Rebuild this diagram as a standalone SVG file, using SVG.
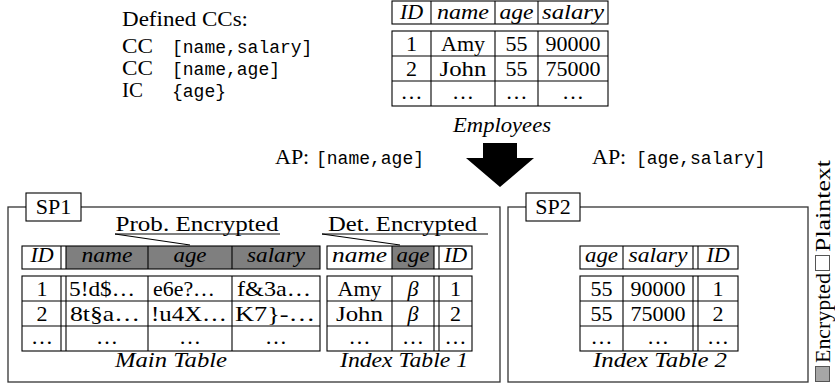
<svg xmlns="http://www.w3.org/2000/svg" width="835" height="385" viewBox="0 0 835 385" font-family="'Liberation Serif', 'DejaVu Serif', serif">
<style>
text{font-family:'Liberation Serif','DejaVu Serif',serif;font-size:22px;fill:#000}
.s{font-size:21px}
.it{font-style:italic}
.mono{font-family:'Liberation Mono','DejaVu Sans Mono',monospace;font-size:18px}
.c{text-anchor:middle}
.tb{fill:none;stroke:#000;stroke-width:1.1}
.ln{stroke:#000;stroke-width:1.1}
.hd{fill:#7f7f7f;stroke:none}
.fr{fill:none;stroke:#333;stroke-width:1.3}
.lab{fill:#fff;stroke:#000;stroke-width:1.1}
</style>
<rect width="835" height="385" fill="#fff"/>

<g id="defined-ccs">
<text x="122" y="26" textLength="126" lengthAdjust="spacingAndGlyphs">Defined CCs:</text>
<text class="s" x="122" y="53" textLength="31" lengthAdjust="spacingAndGlyphs">CC</text><text x="172" y="53" class="mono">[name,salary]</text>
<text class="s" x="122" y="75" textLength="31" lengthAdjust="spacingAndGlyphs">CC</text><text x="172" y="75" class="mono">[name,age]</text>
<text class="s" x="122" y="97">IC</text><text x="172" y="97" class="mono">{age}</text>
</g>

<g id="employees">
<rect class="tb" x="392" y="1" width="216" height="23"/>
<line class="ln" x1="431" y1="1" x2="431" y2="24"/>
<line class="ln" x1="495" y1="1" x2="495" y2="24"/>
<line class="ln" x1="538" y1="1" x2="538" y2="24"/>
<text class="it c" x="411.5" y="19">ID</text>
<text class="it c" x="463" y="19" textLength="52" lengthAdjust="spacingAndGlyphs">name</text>
<text class="it c" x="516.5" y="19" textLength="34" lengthAdjust="spacingAndGlyphs">age</text>
<text class="it c" x="573" y="19" textLength="62" lengthAdjust="spacingAndGlyphs">salary</text>
<rect class="tb" x="392" y="31" width="216" height="75"/>
<line class="ln" x1="431" y1="31" x2="431" y2="106"/>
<line class="ln" x1="495" y1="31" x2="495" y2="106"/>
<line class="ln" x1="538" y1="31" x2="538" y2="106"/>
<line class="ln" x1="392" y1="56" x2="608" y2="56"/>
<line class="ln" x1="392" y1="81" x2="608" y2="81"/>
<text class="c" x="411.5" y="51">1</text><text class="c" x="463" y="51">Amy</text><text class="c" x="516.5" y="51">55</text><text class="c" x="573" y="51">90000</text>
<text class="c" x="411.5" y="76">2</text><text class="c" x="463" y="76" textLength="47" lengthAdjust="spacingAndGlyphs">John</text><text class="c" x="516.5" y="76">55</text><text class="c" x="573" y="76">75000</text>
<text class="c" x="411.5" y="99">…</text><text class="c" x="463" y="99">…</text><text class="c" x="516.5" y="99">…</text><text class="c" x="573" y="99">…</text>
<text class="it c" x="502" y="132" textLength="98" lengthAdjust="spacingAndGlyphs">Employees</text>
</g>

<g id="connectors">
<polygon points="483,143 517,143 517,158 534,158 500,187 466,158 483,158" fill="#000"/>
<text x="275" y="164">AP:</text><text x="316" y="164" class="mono">[name,age]</text>
<text x="592" y="164">AP:</text><text x="636" y="164" class="mono">[age,salary]</text>
</g>

<g id="sp1">
<rect class="fr" x="8" y="207" width="492" height="175"/>
<rect class="lab" x="26" y="193" width="55" height="28"/>
<text class="c" x="53.5" y="214">SP1</text>
</g>

<g id="main-table">
<text class="c" x="197" y="231" textLength="163" lengthAdjust="spacingAndGlyphs">Prob. Encrypted</text>
<line class="ln" x1="115" y1="234" x2="280" y2="234"/>
<line class="ln" x1="115" y1="234" x2="190" y2="245"/>
<rect class="hd" x="66" y="246" width="254" height="23"/>
<rect class="tb" x="22" y="246" width="298" height="23"/>
<line class="ln" x1="61" y1="246" x2="61" y2="269"/>
<line class="ln" x1="66" y1="246" x2="66" y2="269"/>
<line class="ln" x1="148" y1="246" x2="148" y2="269"/>
<line class="ln" x1="232" y1="246" x2="232" y2="269"/>
<text class="it c" x="42" y="262">ID</text>
<text class="it c" x="107" y="262" textLength="51" lengthAdjust="spacingAndGlyphs">name</text>
<text class="it c" x="190" y="262" textLength="33" lengthAdjust="spacingAndGlyphs">age</text>
<text class="it c" x="276" y="262" textLength="58" lengthAdjust="spacingAndGlyphs">salary</text>
<rect class="tb" x="22" y="276" width="298" height="75"/>
<line class="ln" x1="61" y1="276" x2="61" y2="351"/>
<line class="ln" x1="66" y1="276" x2="66" y2="351"/>
<line class="ln" x1="148" y1="276" x2="148" y2="351"/>
<line class="ln" x1="232" y1="276" x2="232" y2="351"/>
<line class="ln" x1="22" y1="301" x2="320" y2="301"/>
<line class="ln" x1="22" y1="326" x2="320" y2="326"/>
<text class="c" x="42" y="296">1</text><text x="69" y="296" textLength="66" lengthAdjust="spacingAndGlyphs">5!d$…</text><text x="153" y="296" textLength="62" lengthAdjust="spacingAndGlyphs">e6e?…</text><text x="237" y="296" textLength="74" lengthAdjust="spacingAndGlyphs">f&amp;3a…</text>
<text class="c" x="42" y="321">2</text><text x="70" y="321" textLength="70" lengthAdjust="spacingAndGlyphs">8t§a…</text><text x="151" y="321" textLength="76" lengthAdjust="spacingAndGlyphs">!u4X…</text><text x="235" y="321" textLength="80" lengthAdjust="spacingAndGlyphs">K7}-…</text>
<text class="c" x="42" y="344">…</text><text class="c" x="107" y="344">…</text><text class="c" x="190" y="344">…</text><text class="c" x="276" y="344">…</text>
<text class="it c" x="171" y="367" textLength="112" lengthAdjust="spacingAndGlyphs">Main Table</text>
</g>

<g id="index-table-1">
<text class="c" x="402.5" y="231" textLength="149" lengthAdjust="spacingAndGlyphs">Det. Encrypted</text>
<line class="ln" x1="322" y1="234" x2="488" y2="234"/>
<line class="ln" x1="322" y1="234" x2="400" y2="245"/>
<rect class="hd" x="392" y="246" width="42" height="23"/>
<rect class="tb" x="327" y="246" width="145" height="23"/>
<line class="ln" x1="392" y1="246" x2="392" y2="269"/>
<line class="ln" x1="434" y1="246" x2="434" y2="269"/>
<line class="ln" x1="439" y1="246" x2="439" y2="269"/>
<text class="it c" x="359.5" y="262" textLength="55" lengthAdjust="spacingAndGlyphs">name</text>
<text class="it c" x="413" y="262" textLength="33" lengthAdjust="spacingAndGlyphs">age</text>
<text class="it c" x="455.5" y="262">ID</text>
<rect class="tb" x="327" y="276" width="145" height="75"/>
<line class="ln" x1="392" y1="276" x2="392" y2="351"/>
<line class="ln" x1="434" y1="276" x2="434" y2="351"/>
<line class="ln" x1="439" y1="276" x2="439" y2="351"/>
<line class="ln" x1="327" y1="301" x2="472" y2="301"/>
<line class="ln" x1="327" y1="326" x2="472" y2="326"/>
<text class="c" x="359.5" y="296">Amy</text><text class="it c" x="413" y="296">β</text><text class="c" x="455.5" y="296">1</text>
<text class="c" x="359.5" y="321" textLength="47" lengthAdjust="spacingAndGlyphs">John</text><text class="it c" x="413" y="321">β</text><text class="c" x="455.5" y="321">2</text>
<text class="c" x="359.5" y="344">…</text><text class="c" x="413" y="344">…</text><text class="c" x="455.5" y="344">…</text>
<text class="it c" x="404" y="367" textLength="128" lengthAdjust="spacingAndGlyphs">Index Table 1</text>
</g>

<g id="sp2">
<rect class="fr" x="508" y="207" width="300" height="175"/>
<rect class="lab" x="526" y="193" width="54" height="28"/>
<text class="c" x="553" y="214">SP2</text>
</g>

<g id="index-table-2">
<rect class="tb" x="580" y="246" width="158" height="23"/>
<line class="ln" x1="623" y1="246" x2="623" y2="269"/>
<line class="ln" x1="693" y1="246" x2="693" y2="269"/>
<line class="ln" x1="698" y1="246" x2="698" y2="269"/>
<text class="it c" x="601.5" y="262" textLength="33" lengthAdjust="spacingAndGlyphs">age</text>
<text class="it c" x="658" y="262" textLength="59" lengthAdjust="spacingAndGlyphs">salary</text>
<text class="it c" x="718" y="262">ID</text>
<rect class="tb" x="580" y="276" width="158" height="75"/>
<line class="ln" x1="623" y1="276" x2="623" y2="351"/>
<line class="ln" x1="693" y1="276" x2="693" y2="351"/>
<line class="ln" x1="698" y1="276" x2="698" y2="351"/>
<line class="ln" x1="580" y1="301" x2="738" y2="301"/>
<line class="ln" x1="580" y1="326" x2="738" y2="326"/>
<text class="c" x="601.5" y="296">55</text><text class="c" x="658" y="296">90000</text><text class="c" x="718" y="296">1</text>
<text class="c" x="601.5" y="321">55</text><text class="c" x="658" y="321">75000</text><text class="c" x="718" y="321">2</text>
<text class="c" x="601.5" y="344">…</text><text class="c" x="658" y="344">…</text><text class="c" x="718" y="344">…</text>
<text class="it c" x="660" y="367" textLength="134" lengthAdjust="spacingAndGlyphs">Index Table 2</text>
</g>

<g id="legend">
<rect x="815.5" y="366.5" width="14" height="15" fill="#a6a6a6" stroke="#555" stroke-width="1"/>
<text transform="translate(830,363) rotate(-90)" textLength="90" lengthAdjust="spacingAndGlyphs">Encrypted</text>
<rect x="815.5" y="255.5" width="14" height="15" fill="#fff" stroke="#555" stroke-width="1"/>
<text transform="translate(830,252) rotate(-90)" textLength="92" lengthAdjust="spacingAndGlyphs">Plaintext</text>
</g>
</svg>
